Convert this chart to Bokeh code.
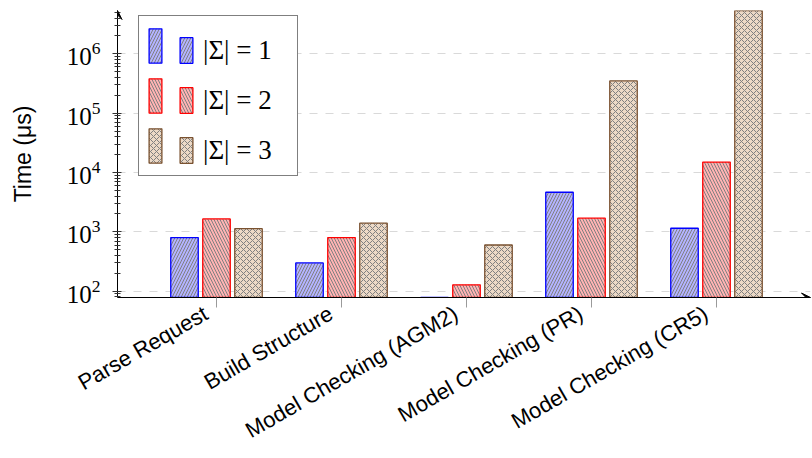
import math
import numpy as np
from bokeh.plotting import figure
from bokeh.models import (Range1d, FixedTicker, Legend, LegendItem, Arrow, VeeHead)
from bokeh.embed import file_html
from bokeh.resources import INLINE

# ---- data ----
categories = ["Parse Request", "Build Structure", "Model Checking (AGM2)",
              "Model Checking (PR)", "Model Checking (CR5)"]
series_labels = ["|Σ| = 1", "|Σ| = 2", "|Σ| = 3"]
sigma1 = [800, 300, 78, 4650, 1150]
sigma2 = [1650, 800, 128, 1700, 15000]
sigma3 = [1130, 1400, 600, 350000, 5400000]
y_label = "Time (μs)"

# ---- styles ----
fills = ["#b3b3ff", "#ffb3b3", "#ecd9c6"]
edges = ["#0000ff", "#ff0000", "#7a5230"]
hatches = ["right_diagonal_line", "left_diagonal_line", "diagonal_cross"]
offsets = [-0.256, 0.0, 0.256]
bar_w = 0.22

x_start, x_end = -0.792, 4.752
y_start, y_end = 78.3, 5.37e6

p = figure(width=812, height=458, x_range=Range1d(x_start, x_end),
           y_range=Range1d(y_start, y_end), y_axis_type="log",
           output_backend="svg", toolbar_location=None,
           min_border_left=117, min_border_right=2, min_border_top=10,
           min_border_bottom=161)
p.outline_line_color = None
p.background_fill_color = "white"
p.xgrid.visible = False
p.ygrid.grid_line_color = "#d9d9d9"
p.ygrid.grid_line_dash = "8 8"
p.ygrid.grid_line_width = 1.2

idx = np.arange(len(categories))
renderers = []
for vals, fc, ec, hp, off in zip([sigma1, sigma2, sigma3], fills, edges, hatches, offsets):
    r = p.vbar(x=idx + off, top=vals, bottom=1, width=bar_w,
               fill_color=fc, line_color=ec, line_width=1.3,
               hatch_pattern=hp, hatch_color="#808080", hatch_scale=6,
               hatch_weight=1, hatch_alpha=1)
    renderers.append(r)

# ---- axes ----
pad = "\u00a0\u00a0"  # keeps each rotated label's end just left of its tick
xa = p.xaxis[0]
xa.ticker = FixedTicker(ticks=list(idx))
xa.major_label_overrides = {int(i): c + pad for i, c in zip(idx, categories)}
xa.major_label_orientation = math.pi / 6
xa.major_label_text_font = "Liberation Sans"
xa.major_label_text_font_size = "22px"
xa.major_label_text_color = "black"
xa.major_label_standoff = -2
xa.major_tick_in = 0
xa.major_tick_out = 10
xa.major_tick_line_color = "#9a9a9a"
xa.minor_tick_line_color = None
xa.axis_line_color = "black"

ya = p.yaxis[0]
ya.axis_label = y_label
ya.axis_label_text_font = "Liberation Sans"
ya.axis_label_text_font_size = "23px"
ya.axis_label_text_font_style = "normal"
ya.axis_label_text_color = "black"
ya.axis_label_standoff = 28
ya.major_label_text_font = "Liberation Serif"
ya.major_label_text_font_size = "25px"
ya.major_label_text_color = "black"
ya.major_label_standoff = 12
ya.major_tick_in = 4
ya.major_tick_out = 5
ya.minor_tick_in = 3
ya.minor_tick_out = 3
ya.major_tick_line_color = "#333333"
ya.minor_tick_line_color = "#333333"
ya.axis_line_color = "black"

# axis arrows
p.add_layout(Arrow(end=VeeHead(size=9, fill_color="black", line_color="black", line_width=1),
                   x_start=x_end - 0.02, y_start=y_start, x_end=x_end, y_end=y_start,
                   line_color="black", line_width=1))
p.add_layout(Arrow(end=VeeHead(size=9, fill_color="black", line_color="black", line_width=1),
                   x_start=x_start, y_start=y_end * 0.98, x_end=x_start, y_end=y_end,
                   line_color="black", line_width=1))

# ---- legend (two swatches per entry, like the original) ----
leg_a = Legend(items=[LegendItem(label=" ", renderers=[r]) for r in renderers],
               location=(21, 121), glyph_width=16, glyph_height=43,
               label_width=126, label_height=20, label_standoff=0, padding=8,
               spacing=7, border_line_color="black", border_line_width=1,
               background_fill_color="white", background_fill_alpha=1,
               label_text_font_size="10px")
leg_b = Legend(items=[LegendItem(label=s, renderers=[r]) for s, r in zip(series_labels, renderers)],
               location=(61, 131), glyph_width=16, glyph_height=32,
               label_height=32, label_standoff=9, padding=0, spacing=18,
               border_line_color=None, background_fill_alpha=0,
               label_text_font="Liberation Serif", label_text_font_size="27px",
               label_text_color="black")
p.add_layout(leg_a, "center")
p.add_layout(leg_b, "center")

open("out.html", "w").write(file_html(p, INLINE))
